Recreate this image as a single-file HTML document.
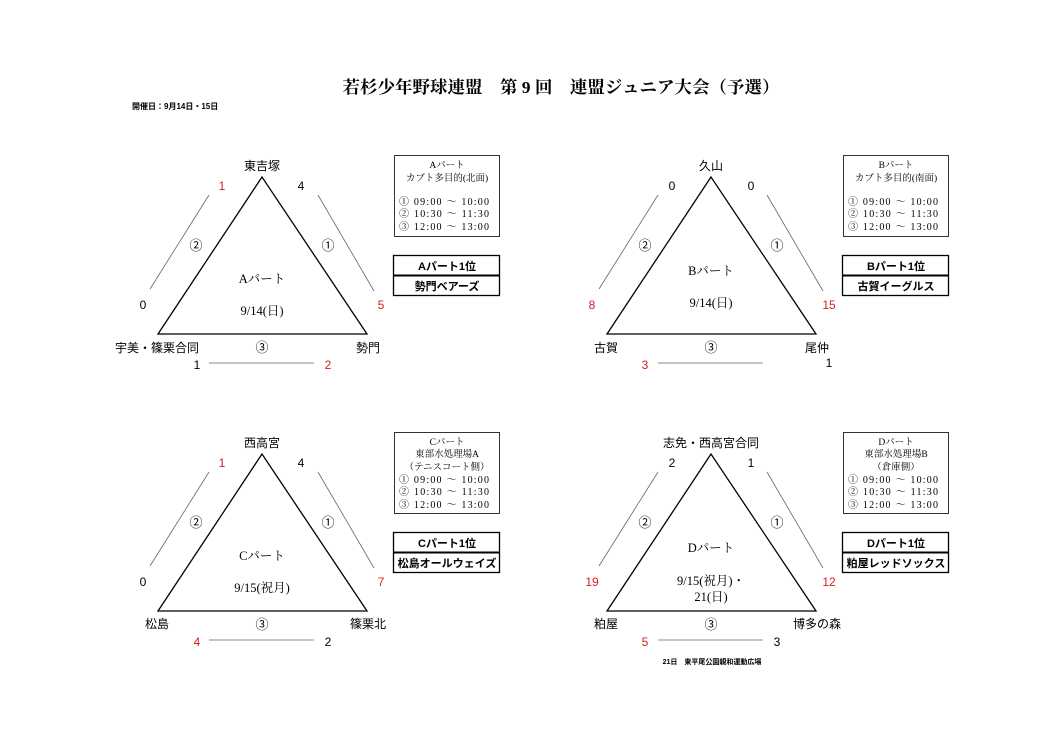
<!DOCTYPE html>
<html><head><meta charset="utf-8"><style>
html,body{margin:0;padding:0;background:#fff;}
svg{display:block}
.s{font-family:"Liberation Sans","Noto Sans CJK JP",sans-serif;font-weight:bold;}
.n{font-family:"Liberation Sans","Noto Sans CJK JP",sans-serif;}
.r{font-family:"Liberation Serif","Noto Serif CJK SC",serif;}
.red{fill:#d42020}
</style></head><body>
<svg width="1053" height="744" viewBox="0 0 1053 744" xmlns="http://www.w3.org/2000/svg">
<rect width="1053" height="744" fill="#fff"/>
<text x="561" y="93" text-anchor="middle" class="r" font-size="17" font-weight="bold" textLength="437" lengthAdjust="spacingAndGlyphs">若杉少年野球連盟　第 9 回　連盟ジュニア大会（予選）</text>
<text x="132" y="109" class="s" font-size="8">開催日：9月14日・15日</text>

<g id="A">
<polygon points="262,177 158,334 367,334" fill="none" stroke="#000" stroke-width="1.3"/>
<line x1="209" y1="195" x2="150" y2="289" stroke="#666" stroke-width="0.8"/>
<line x1="318" y1="195" x2="374" y2="291" stroke="#666" stroke-width="0.8"/>
<line x1="209" y1="363" x2="314" y2="363" stroke="#666" stroke-width="0.8"/>
<text x="196" y="250" class="n" font-size="13" text-anchor="middle">②</text>
<text x="328" y="250" class="n" font-size="13" text-anchor="middle">①</text>
<text x="262" y="352" class="n" font-size="13" text-anchor="middle">③</text>
</g>
<use href="#A" x="449" y="0"/>
<use href="#A" x="0" y="277"/>
<use href="#A" x="449" y="277"/>

<g class="n" font-size="12" text-anchor="middle">
<text x="262" y="170">東吉塚</text>
<text x="222" y="190" class="red">1</text><text x="301" y="190">4</text>
<text x="143" y="309">0</text><text x="381" y="309" class="red">5</text>
<text x="157" y="352">宇美・篠栗合同</text><text x="368" y="352">勢門</text>
<text x="197" y="369">1</text><text x="328" y="369" class="red">2</text>
<text x="711" y="170">久山</text>
<text x="672" y="190">0</text><text x="751" y="190">0</text>
<text x="592" y="309" class="red">8</text><text x="829" y="309" class="red">15</text>
<text x="606" y="352">古賀</text><text x="817" y="352">尾仲</text>
<text x="645" y="369" class="red">3</text><text x="829" y="367">1</text>
<text x="262" y="447">西高宮</text>
<text x="222" y="467" class="red">1</text><text x="301" y="467">4</text>
<text x="143" y="586">0</text><text x="381" y="586" class="red">7</text>
<text x="157" y="628">松島</text><text x="368" y="628">篠栗北</text>
<text x="197" y="646" class="red">4</text><text x="328" y="646">2</text>
<text x="711" y="447">志免・西高宮合同</text>
<text x="672" y="467">2</text><text x="751" y="467">1</text>
<text x="592" y="586" class="red">19</text><text x="829" y="586" class="red">12</text>
<text x="606" y="628">粕屋</text><text x="817" y="628">博多の森</text>
<text x="645" y="646" class="red">5</text><text x="777" y="646">3</text>
</g>
<text x="712" y="664" class="s" font-size="7" text-anchor="middle">21日　東平尾公園親和運動広場</text>

<g class="r" font-size="12.5" text-anchor="middle">
<text x="262" y="283">Aパート</text><text x="262" y="315">9/14(日)</text>
<text x="711" y="275">Bパート</text><text x="711" y="307">9/14(日)</text>
<text x="262" y="560">Cパート</text><text x="262" y="592">9/15(祝月)</text>
<text x="711" y="552">Dパート</text><text x="711" y="585">9/15(祝月)・</text><text x="711" y="601">21(日)</text>
</g>

<g fill="none" stroke="#333" stroke-width="1">
<rect x="394.5" y="155.5" width="105" height="81"/>
<rect x="843.5" y="155.5" width="105" height="81"/>
<rect x="394.5" y="432.5" width="105" height="81"/>
<rect x="843.5" y="432.5" width="105" height="81"/>
</g>
<g class="r" font-size="9.5" text-anchor="middle">
<text x="447" y="168">Aパート</text><text x="447" y="181">カブト多目的(北面)</text>
<text x="896" y="168">Bパート</text><text x="896" y="181">カブト多目的(南面)</text>
<text x="447" y="445">Cパート</text><text x="447" y="457">東部水処理場A</text><text x="447" y="470">（テニスコート側）</text>
<text x="896" y="445">Dパート</text><text x="896" y="457">東部水処理場B</text><text x="896" y="470">（倉庫側）</text>
</g>
<g class="r" font-size="10" xml:space="preserve">
<text x="399" y="205" textLength="90">① 09:00    ～    10:00</text>
<text x="399" y="217" textLength="90">② 10:30    ～    11:30</text>
<text x="399" y="230" textLength="90">③ 12:00    ～    13:00</text>
<text x="848" y="205" textLength="90">① 09:00    ～    10:00</text>
<text x="848" y="217" textLength="90">② 10:30    ～    11:30</text>
<text x="848" y="230" textLength="90">③ 12:00    ～    13:00</text>
<text x="399" y="483" textLength="90">① 09:00    ～    10:00</text>
<text x="399" y="495" textLength="90">② 10:30    ～    11:30</text>
<text x="399" y="508" textLength="90">③ 12:00    ～    13:00</text>
<text x="848" y="483" textLength="90">① 09:00    ～    10:00</text>
<text x="848" y="495" textLength="90">② 10:30    ～    11:30</text>
<text x="848" y="508" textLength="90">③ 12:00    ～    13:00</text>
</g>

<g fill="none" stroke="#000" stroke-width="1.3">
<rect x="393.5" y="255.5" width="106" height="40"/><line x1="393" y1="275.5" x2="500" y2="275.5" stroke-width="2"/>
<rect x="842.5" y="255.5" width="106" height="40"/><line x1="842" y1="275.5" x2="949" y2="275.5" stroke-width="2"/>
<rect x="393.5" y="532.5" width="106" height="40"/><line x1="393" y1="552.5" x2="500" y2="552.5" stroke-width="2"/>
<rect x="842.5" y="532.5" width="106" height="40"/><line x1="842" y1="552.5" x2="949" y2="552.5" stroke-width="2"/>
</g>
<g class="s" font-size="11" text-anchor="middle">
<text x="447" y="270">Aパート1位</text><text x="447" y="290">勢門ベアーズ</text>
<text x="896" y="270">Bパート1位</text><text x="896" y="290">古賀イーグルス</text>
<text x="447" y="547">Cパート1位</text><text x="447" y="567">松島オールウェイズ</text>
<text x="896" y="547">Dパート1位</text><text x="896" y="567">粕屋レッドソックス</text>
</g>
</svg>
</body></html>
